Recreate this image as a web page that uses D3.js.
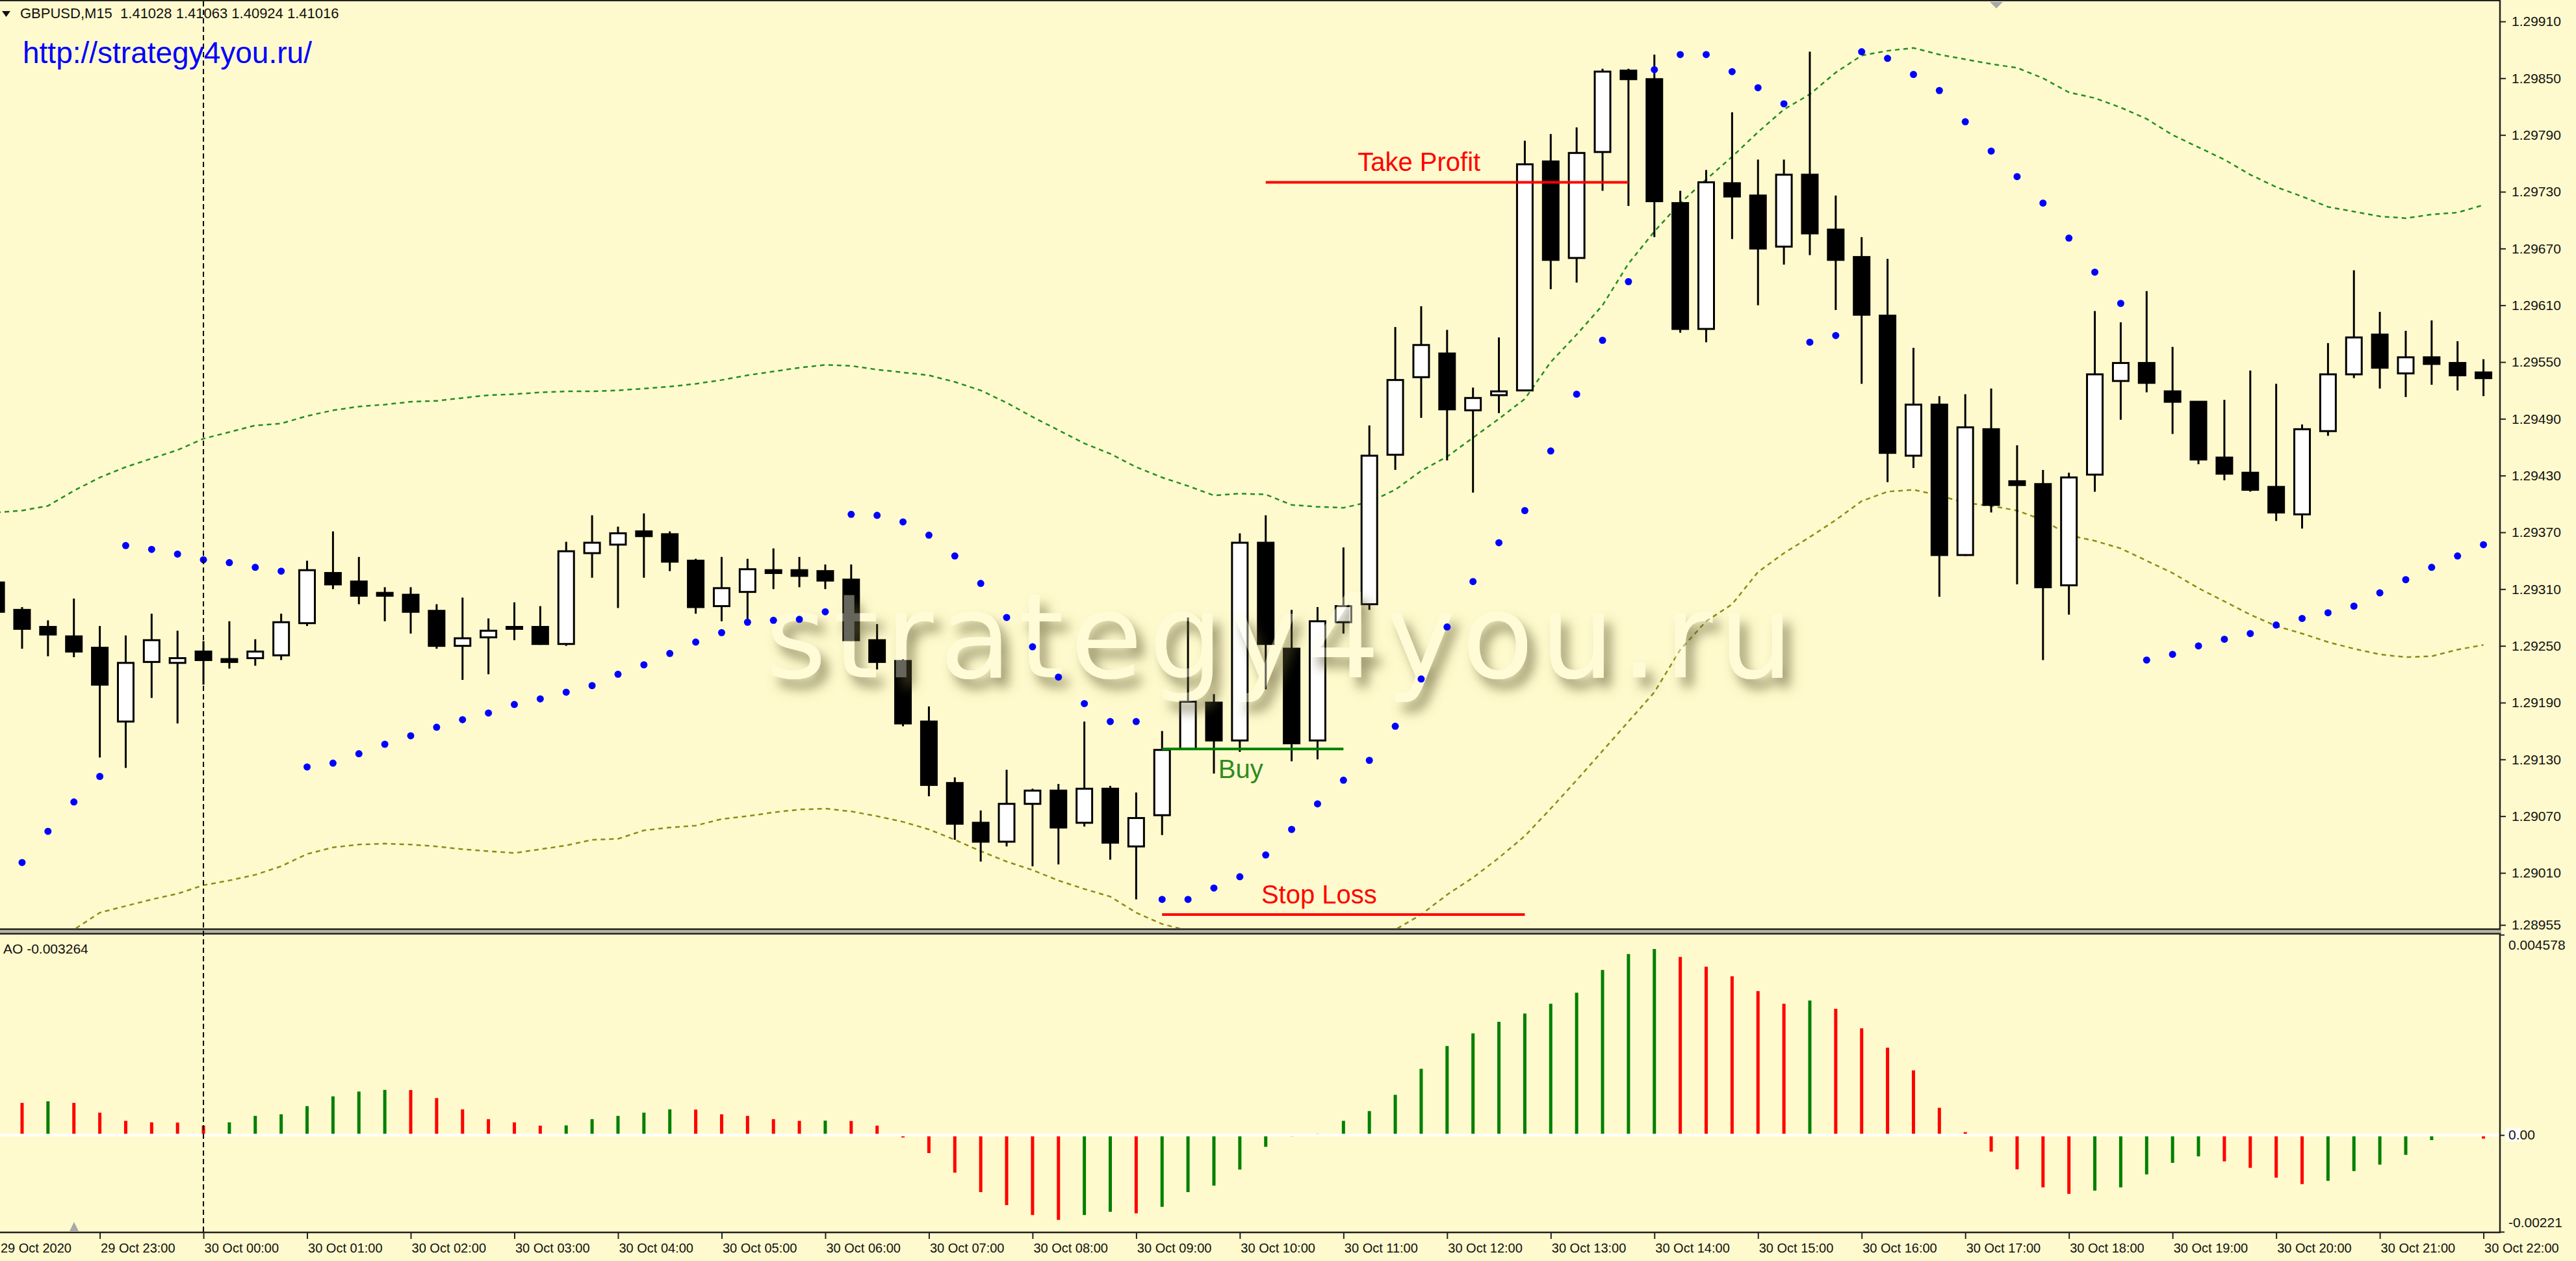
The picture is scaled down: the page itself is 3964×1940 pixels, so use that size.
<!DOCTYPE html>
<html><head><meta charset="utf-8">
<script src="https://cdn.jsdelivr.net/npm/d3@7"></script>
<style>html,body{margin:0;padding:0;background:#FFFACD;overflow:hidden}</style>
</head><body>
<script>
// ---------------- DATA ----------------
const symbolHeader = "GBPUSD,M15  1.41028 1.41063 1.40924 1.41016";
const siteText = "http://strategy4you.ru/";
const watermarkText = "strategy4you.ru";
const aoHeader = "AO -0.003264";
const startTimeUTC = Date.UTC(2020, 9, 29, 22, 0); // first bar: 29 Oct 2020 22:00
const barMinutes = 15;

const openP = [1.29317,1.29288,1.29270,1.29260,
 1.29248,1.29170,1.29233,1.29232,1.29244,1.29236,1.29237,1.29240,1.29274,1.29327,
 1.29318,1.29306,1.29304,1.29287,1.29250,1.29259,1.29270,1.29270,1.29252,1.29348,
 1.29357,1.29371,1.29368,1.29340,1.29292,1.29307,1.29330,1.29330,1.29329,1.29320,
 1.29256,1.29234,1.29170,1.29105,1.29063,1.29043,1.29083,1.29097,1.29063,1.29099,
 1.29038,1.29071,1.29141,1.29190,1.29150,1.29359,1.29247,1.29150,1.29275,1.29294,
 1.29452,1.29534,1.29559,1.29499,1.29515,1.29520,1.29762,1.29660,1.29772,1.29858,
 1.29849,1.29718,1.29585,1.29739,1.29726,1.29672,1.29748,1.29690,1.29661,1.29599,
 1.29451,1.29505,1.29346,1.29479,1.29424,1.29421,1.29314,1.29431,1.29530,1.29549,
 1.29519,1.29508,1.29449,1.29433,1.29418,1.29389,1.29477,1.29537,1.29579,1.29538,
 1.29555,1.29549,1.29539];
const highP = [1.29321,1.29291,1.29277,1.29300,
 1.29271,1.29261,1.29284,1.29266,1.29255,1.29276,1.29257,1.29284,1.29340,1.29371,
 1.29344,1.29312,1.29312,1.29294,1.29301,1.29279,1.29296,1.29292,1.29360,1.29388,
 1.29376,1.29390,1.29371,1.29342,1.29344,1.29342,1.29353,1.29344,1.29336,1.29336,
 1.29273,1.29236,1.29186,1.29111,1.29076,1.29119,1.29099,1.29104,1.29170,1.29102,
 1.29095,1.29160,1.29280,1.29199,1.29369,1.29388,1.29288,1.29291,1.29354,1.29483,
 1.29587,1.29609,1.29584,1.29523,1.29576,1.29784,1.29791,1.29798,1.29860,1.29860,
 1.29875,1.29731,1.29753,1.29814,1.29764,1.29764,1.29878,1.29726,1.29682,1.29659,
 1.29565,1.29514,1.29516,1.29522,1.29462,1.29436,1.29433,1.29604,1.29592,1.29625,
 1.29566,1.29508,1.29510,1.29541,1.29527,1.29484,1.29570,1.29647,1.29603,1.29583,
 1.29594,1.29572,1.29553];
const lowP = [1.29283,1.29247,1.29239,1.29238,
 1.29132,1.29121,1.29195,1.29168,1.29209,1.29226,1.29229,1.29235,1.29271,1.29310,
 1.29294,1.29276,1.29263,1.29247,1.29214,1.29220,1.29256,1.29251,1.29250,1.29322,
 1.29290,1.29322,1.29329,1.29284,1.29276,1.29276,1.29310,1.29312,1.29310,1.29255,
 1.29225,1.29165,1.29091,1.29045,1.29022,1.29038,1.29017,1.29019,1.29059,1.29024,
 1.28982,1.29050,1.29140,1.29115,1.29138,1.29204,1.29128,1.29130,1.29263,1.29288,
 1.29436,1.29491,1.29446,1.29412,1.29496,1.29519,1.29627,1.29634,1.29731,1.29715,
 1.29682,1.29581,1.29571,1.29680,1.29610,1.29653,1.29663,1.29605,1.29527,1.29423,
 1.29438,1.29302,1.29345,1.29391,1.29315,1.29235,1.29283,1.29413,1.29489,1.29518,
 1.29474,1.29442,1.29425,1.29413,1.29382,1.29374,1.29472,1.29533,1.29522,1.29513,
 1.29526,1.29520,1.29514];
const closeP = [1.29286,1.29268,1.29262,1.29244,
 1.29209,1.29232,1.29256,1.29237,1.29235,1.29233,1.29244,1.29275,1.29330,1.29315,
 1.29303,1.29303,1.29286,1.29250,1.29258,1.29266,1.29268,1.29252,1.29350,1.29359,
 1.29369,1.29366,1.29339,1.29291,1.29311,1.29331,1.29327,1.29324,1.29319,1.29256,
 1.29233,1.29168,1.29103,1.29062,1.29043,1.29083,1.29097,1.29058,1.29099,1.29042,
 1.29068,1.29140,1.29191,1.29150,1.29359,1.29252,1.29147,1.29276,1.29292,1.29451,
 1.29531,1.29568,1.29500,1.29512,1.29519,1.29759,1.29658,1.29771,1.29857,1.29849,
 1.29720,1.29585,1.29740,1.29725,1.29670,1.29748,1.29686,1.29658,1.29600,1.29454,
 1.29505,1.29346,1.29481,1.29399,1.29420,1.29312,1.29428,1.29537,1.29549,1.29528,
 1.29508,1.29447,1.29432,1.29415,1.29391,1.29479,1.29537,1.29576,1.29544,1.29555,
 1.29548,1.29536,1.29533];
const upperBand = [1.29391,1.29393,1.29398,1.29414,
 1.29428,1.29439,1.29448,1.29457,1.29469,1.29476,1.29483,1.29485,1.29493,1.29499,
 1.29503,1.29505,1.29508,1.29509,1.29512,1.29515,1.29516,1.29518,1.29519,1.29519,
 1.29520,1.29522,1.29524,1.29527,1.29531,1.29536,1.29540,1.29544,1.29547,1.29546,
 1.29542,1.29539,1.29536,1.29529,1.29520,1.29507,1.29492,1.29478,1.29464,1.29453,
 1.29439,1.29428,1.29419,1.29409,1.29411,1.29410,1.29399,1.29397,1.29396,1.29402,
 1.29415,1.29435,1.29450,1.29470,1.29490,1.29511,1.29550,1.29579,1.29610,1.29654,
 1.29688,1.29718,1.29743,1.29767,1.29793,1.29817,1.29833,1.29856,1.29874,1.29879,
 1.29882,1.29875,1.29870,1.29865,1.29861,1.29850,1.29835,1.29829,1.29819,1.29807,
 1.29790,1.29777,1.29764,1.29748,1.29735,1.29725,1.29714,1.29709,1.29704,1.29702,
 1.29706,1.29708,1.29716];
const lowerBand = [1.28923,1.28933,1.28943,1.28950,
 1.28968,1.28975,1.28982,1.28988,1.28997,1.29002,1.29008,1.29017,1.29030,1.29037,
 1.29040,1.29041,1.29040,1.29038,1.29035,1.29033,1.29031,1.29035,1.29039,1.29045,
 1.29046,1.29055,1.29058,1.29060,1.29067,1.29070,1.29074,1.29077,1.29078,1.29075,
 1.29070,1.29064,1.29056,1.29045,1.29033,1.29022,1.29013,1.29002,1.28993,1.28985,
 1.28968,1.28956,1.28949,1.28940,1.28933,1.28928,1.28926,1.28928,1.28936,1.28945,
 1.28950,1.28966,1.28987,1.29005,1.29026,1.29049,1.29078,1.29108,1.29139,1.29170,
 1.29201,1.29246,1.29276,1.29294,1.29328,1.29348,1.29365,1.29383,1.29403,1.29413,
 1.29415,1.29409,1.29401,1.29398,1.29393,1.29383,1.29367,1.29361,1.29353,1.29340,
 1.29327,1.29311,1.29297,1.29283,1.29271,1.29263,1.29254,1.29247,1.29241,1.29238,
 1.29239,1.29246,1.29251];
const sarValues = [1.28985,1.29021,1.29054,1.29085,
 1.29112,1.29356,1.29352,1.29347,1.29341,1.29338,1.29333,1.29329,1.29122,1.29126,
 1.29136,1.29146,1.29155,1.29164,1.29172,1.29179,1.29188,1.29194,1.29201,1.29208,
 1.29220,1.29230,1.29242,1.29254,1.29264,1.29275,1.29277,1.29278,1.29286,1.29389,
 1.29388,1.29381,1.29367,1.29345,1.29316,1.29280,1.29249,1.29217,1.29189,1.29170,
 1.29170,1.28982,1.28982,1.28994,1.29006,1.29029,1.29056,1.29083,1.29108,1.29129,
 1.29165,1.29215,1.29270,1.29318,1.29359,1.29393,1.29456,1.29516,1.29573,1.29635,
 1.29859,1.29875,1.29875,1.29857,1.29840,1.29823,1.29571,1.29578,1.29878,1.29871,
 1.29854,1.29837,1.29804,1.29773,1.29746,1.29718,1.29681,1.29645,1.29612,1.29235,
 1.29241,1.29250,1.29257,1.29263,1.29272,1.29279,1.29285,1.29292,1.29306,1.29320,
 1.29333,1.29345,1.29357];
const aoValues = [0.000760,0.000735,0.000771,0.000735,
 0.000512,0.000325,0.000290,0.000285,0.000215,0.000290,0.000438,0.000474,0.000661,0.000884,
 0.000994,0.001032,0.001028,0.000845,0.000587,0.000364,0.000290,0.000215,0.000220,0.000364,
 0.000438,0.000512,0.000587,0.000582,0.000474,0.000438,0.000364,0.000325,0.000330,0.000322,
 0.000215,-0.000056,-0.000413,-0.000859,-0.001304,-0.001601,-0.001828,-0.001938,-0.001828,-0.001754,
 -0.001790,-0.001641,-0.001304,-0.001156,-0.000789,-0.000269,-0.000030,0.000030,0.000325,0.000548,
 0.000919,0.001514,0.002033,0.002325,0.002587,0.002776,0.002999,0.003251,0.003771,0.004137,
 0.004251,0.004068,0.003846,0.003627,0.003290,0.002999,0.003073,0.002885,0.002439,0.001998,
 0.001478,0.000622,0.000067,-0.000379,-0.000784,-0.001196,-0.001344,-0.001270,-0.001196,-0.000899,
 -0.000636,-0.000487,-0.000602,-0.000750,-0.000973,-0.001121,-0.001047,-0.000824,-0.000676,-0.000453,
 -0.000116,-0.000020,-0.000082];

const priceTicks = [1.29910,1.29850,1.29790,1.29730,1.29670,1.29610,1.29550,1.29490,
  1.29430,1.29370,1.29310,1.29250,1.29190,1.29130,1.29070,1.29010,1.28955];
const aoTicks = [0.004578, 0, -0.00221];
const aoTickLabels = ["0.004578", "0.00", "-0.00221"];
const firstDateLabel = "29 Oct 2020";
const timeTickLabels = ["29 Oct 23:00","30 Oct 00:00","30 Oct 01:00","30 Oct 02:00","30 Oct 03:00",
 "30 Oct 04:00","30 Oct 05:00","30 Oct 06:00","30 Oct 07:00","30 Oct 08:00","30 Oct 09:00",
 "30 Oct 10:00","30 Oct 11:00","30 Oct 12:00","30 Oct 13:00","30 Oct 14:00","30 Oct 15:00",
 "30 Oct 16:00","30 Oct 17:00","30 Oct 18:00","30 Oct 19:00","30 Oct 20:00","30 Oct 21:00","30 Oct 22:00"];

// trade levels: price, first/last bar index (from series start), label bar position
const levelNames  = ["Take Profit", "Buy", "Stop Loss"];
const levelPrices = [1.29740, 1.29141, 1.28966];
const levelFrom   = [49, 45, 45];
const levelTo     = [63, 52, 59];
const levelLabelAt= [52.55, 47.17, 48.83];
const cursorBar = 8; // 30 Oct 00:00

// ---------------- LAYOUT ----------------
const W = 3964, H = 1940;
const BG = "#FFFACD";
const plotRight = 3846;
const FONT = "'Liberation Sans', Arial, sans-serif";

const n = openP.length;
const dates = d3.range(n).map(i => new Date(startTimeUTC + i * barMinutes * 60000));
const x = d3.scaleTime().domain([dates[0], dates[n - 1]]).range([-5.9, 3821.6]);
const xi = i => x(new Date(startTimeUTC + i * barMinutes * 60000));
const y = d3.scaleLinear().domain([1.28955, 1.29910]).range([1423, 33]);
const yAO = d3.scaleLinear().domain([-0.00221, 0.004578]).range([1895, 1438]);

const svg = d3.select("body").append("svg").attr("width", W).attr("height", H)
  .style("display", "block").style("background", BG);
svg.append("rect").attr("width", W).attr("height", H).attr("fill", BG);

const defs = svg.append("defs");
defs.append("clipPath").attr("id", "cpPrice").append("rect")
  .attr("x", 0).attr("y", 2).attr("width", plotRight).attr("height", 1426);
defs.append("clipPath").attr("id", "cpAO").append("rect")
  .attr("x", 0).attr("y", 1438).attr("width", plotRight).attr("height", 457);
const f = defs.append("filter").attr("id", "wm")
  .attr("x", "-5%").attr("y", "-40%").attr("width", "115%").attr("height", "190%");
f.append("feGaussianBlur").attr("in", "SourceAlpha").attr("stdDeviation", 9).attr("result", "b");
f.append("feOffset").attr("in", "b").attr("dx", 11).attr("dy", 15).attr("result", "o");
f.append("feFlood").attr("flood-color", "#5f5a30").attr("flood-opacity", 0.62).attr("result", "fc");
f.append("feComposite").attr("in", "fc").attr("in2", "o").attr("operator", "in").attr("result", "s");
f.append("feComposite").attr("in", "s").attr("in2", "SourceAlpha").attr("operator", "out").attr("result", "so");
f.append("feFlood").attr("flood-color", "#fffde6").attr("flood-opacity", 0.4).attr("result", "lc");
f.append("feComposite").attr("in", "lc").attr("in2", "SourceAlpha").attr("operator", "in").attr("result", "fill");
const fm = f.append("feMerge");
fm.append("feMergeNode").attr("in", "so");
fm.append("feMergeNode").attr("in", "fill");

// ---------------- PRICE PANEL ----------------
const gP = svg.append("g").attr("clip-path", "url(#cpPrice)");
const bandLine = d3.line().x((d, i) => x(dates[i])).y(d => y(d));
gP.append("path").datum(upperBand).attr("d", bandLine).attr("fill", "none")
  .attr("stroke", "#1f8f1f").attr("stroke-width", 2.5).attr("stroke-dasharray", "7,6");
gP.append("path").datum(lowerBand).attr("d", bandLine).attr("fill", "none")
  .attr("stroke", "#8c8c14").attr("stroke-width", 2.5).attr("stroke-dasharray", "7,6");

const candles = d3.range(n).map(i => ({i, o: openP[i], h: highP[i], l: lowP[i], c: closeP[i]}));
const cg = gP.append("g");
cg.selectAll("line.wick").data(candles).join("line")
  .attr("x1", d => x(dates[d.i])).attr("x2", d => x(dates[d.i]))
  .attr("y1", d => y(d.h)).attr("y2", d => y(d.l))
  .attr("stroke", "#000").attr("stroke-width", 3);
cg.selectAll("rect.body").data(candles).join("rect")
  .attr("x", d => x(dates[d.i]) - 12)
  .attr("y", d => y(Math.max(d.o, d.c)))
  .attr("width", 24)
  .attr("height", d => Math.max(2, Math.abs(y(d.o) - y(d.c))))
  .attr("fill", d => d.c >= d.o ? "#ffffff" : "#000000")
  .attr("stroke", "#000").attr("stroke-width", 3);

// watermark (shadow only, over candles)
gP.append("text").text(watermarkText)
  .attr("x", 1178).attr("y", 1042)
  .attr("font-family", "'DejaVu Sans', sans-serif").attr("font-size", 180)
  .attr("letter-spacing", 10).attr("fill", "#000").attr("filter", "url(#wm)");

// parabolic SAR
gP.selectAll("circle.sar").data(sarValues).join("circle")
  .attr("cx", (d, i) => x(dates[i])).attr("cy", d => y(d)).attr("r", 5.5)
  .attr("fill", "#0000ff");

// trade levels
const levelColors = ["#ff0000", "#008000", "#ff0000"];
const labelColors = ["#ff0000", "#2e8b22", "#ff0000"];
const labelOffsets = [-17, 45, -17];
levelNames.forEach((nm, k) => {
  gP.append("line")
    .attr("x1", xi(levelFrom[k])).attr("x2", xi(levelTo[k]))
    .attr("y1", y(levelPrices[k])).attr("y2", y(levelPrices[k]))
    .attr("stroke", levelColors[k]).attr("stroke-width", 4);
  gP.append("text").text(nm)
    .attr("x", xi(levelLabelAt[k])).attr("y", y(levelPrices[k]) + labelOffsets[k])
    .attr("font-family", FONT).attr("font-size", 40).attr("fill", labelColors[k]);
});

// ---------------- AO PANEL ----------------
const gA = svg.append("g").attr("clip-path", "url(#cpAO)");
gA.selectAll("line.ao").data(aoValues).join("line")
  .attr("x1", (d, i) => x(dates[i])).attr("x2", (d, i) => x(dates[i]))
  .attr("y1", yAO(0)).attr("y2", d => yAO(d))
  .attr("stroke", (d, i) => (i > 0 && d < aoValues[i - 1]) ? "#ff0000" : "#008000")
  .attr("stroke-width", 5);
gA.append("line").attr("x1", 0).attr("x2", plotRight).attr("y1", yAO(0)).attr("y2", yAO(0))
  .attr("stroke", "#ffffff").attr("stroke-width", 4);

// ---------------- FRAMES ----------------
svg.append("line").attr("x1", 0).attr("x2", plotRight + 2).attr("y1", 1).attr("y2", 1)
  .attr("stroke", "#222").attr("stroke-width", 2);
svg.append("rect").attr("x", 0).attr("y", 1429).attr("width", W).attr("height", 8).attr("fill", "#b9b7a0");
svg.append("line").attr("x1", 0).attr("x2", plotRight + 2).attr("y1", 1429.5).attr("y2", 1429.5)
  .attr("stroke", "#222").attr("stroke-width", 2.5);
svg.append("line").attr("x1", 0).attr("x2", plotRight + 2).attr("y1", 1436.5).attr("y2", 1436.5)
  .attr("stroke", "#222").attr("stroke-width", 2.5);
svg.append("rect").attr("x", plotRight + 3).attr("y", 1429).attr("width", W).attr("height", 8).attr("fill", BG);
svg.append("line").attr("x1", 0).attr("x2", plotRight + 2).attr("y1", 1896).attr("y2", 1896)
  .attr("stroke", "#222").attr("stroke-width", 2.5);
svg.append("line").attr("x1", plotRight + 1).attr("x2", plotRight + 1).attr("y1", 0).attr("y2", 1429)
  .attr("stroke", "#222").attr("stroke-width", 2.5);
svg.append("line").attr("x1", plotRight + 1).attr("x2", plotRight + 1).attr("y1", 1436).attr("y2", 1897)
  .attr("stroke", "#222").attr("stroke-width", 2.5);

// cursor line
svg.append("line").attr("x1", xi(cursorBar)).attr("x2", xi(cursorBar)).attr("y1", 2).attr("y2", 1895)
  .attr("stroke", "#000").attr("stroke-width", 2).attr("stroke-dasharray", "8,5");

// ---------------- AXES ----------------
const axP = svg.append("g").attr("transform", `translate(${plotRight + 2},0)`)
  .call(d3.axisRight(y).tickValues(priceTicks).tickFormat(d3.format(".5f")).tickSize(8).tickPadding(9));
axP.select(".domain").remove();
axP.selectAll("line").attr("stroke", "#222").attr("stroke-width", 2);
axP.selectAll("text").attr("font-family", FONT).attr("font-size", 21).attr("fill", "#111");

const axA = svg.append("g").attr("transform", `translate(${plotRight + 2},0)`)
  .call(d3.axisRight(yAO).tickValues(aoTicks).tickFormat((d, i) => aoTickLabels[i]).tickSize(6).tickPadding(6));
axA.select(".domain").remove();
axA.selectAll("line").attr("stroke", "#222").attr("stroke-width", 2);
axA.selectAll(".tick").filter(d => d === 0).insert("rect", "text")
  .attr("x", 7).attr("y", -11).attr("width", 24).attr("height", 20).attr("fill", "#ffffff");
axA.selectAll("text").attr("font-family", FONT).attr("font-size", 21).attr("fill", "#111")
  .attr("dy", d => d === aoTicks[0] ? "1.05em" : (d === aoTicks[2] ? "-0.35em" : "0.32em"));

const hourTicks = timeTickLabels.map((t, h) => new Date(startTimeUTC + (h + 1) * 3600000));
const axT = svg.append("g").attr("transform", "translate(0,1897)")
  .call(d3.axisBottom(x).tickValues(hourTicks).tickFormat((d, i) => timeTickLabels[i]).tickSize(9));
axT.select(".domain").remove();
axT.selectAll("line").attr("stroke", "#222").attr("stroke-width", 2);
axT.selectAll("text").attr("font-family", FONT).attr("font-size", 20).attr("fill", "#111")
  .attr("text-anchor", "start").attr("x", 1).attr("y", 30).attr("dy", null);
svg.append("text").text(firstDateLabel).attr("x", Math.max(1, x(dates[0]) - 6)).attr("y", 1927)
  .attr("font-family", FONT).attr("font-size", 20).attr("fill", "#111");

// ---------------- HEADERS ----------------
svg.append("path").attr("d", "M3,17 L16,17 L9.5,26 Z").attr("fill", "#111");
svg.append("text").text(symbolHeader).attr("x", 31).attr("y", 28)
  .attr("font-family", FONT).attr("font-size", 22).attr("fill", "#111").style("white-space", "pre")
  .attr("xml:space", "preserve");
svg.append("text").text(siteText).attr("x", 35).attr("y", 97)
  .attr("font-family", FONT).attr("font-size", 46).attr("fill", "#0000ff");
svg.append("text").text(aoHeader).attr("x", 5).attr("y", 1467)
  .attr("font-family", FONT).attr("font-size", 21).attr("fill", "#111");

// MT4 shift markers
svg.append("path").attr("d", "M3062,3 L3082,3 L3072,13 Z").attr("fill", "#a8a8a8");
svg.append("path").attr("d", "M107,1894 L121,1894 L114,1880 Z").attr("fill", "#a8a8a8");
</script>
</body></html>
